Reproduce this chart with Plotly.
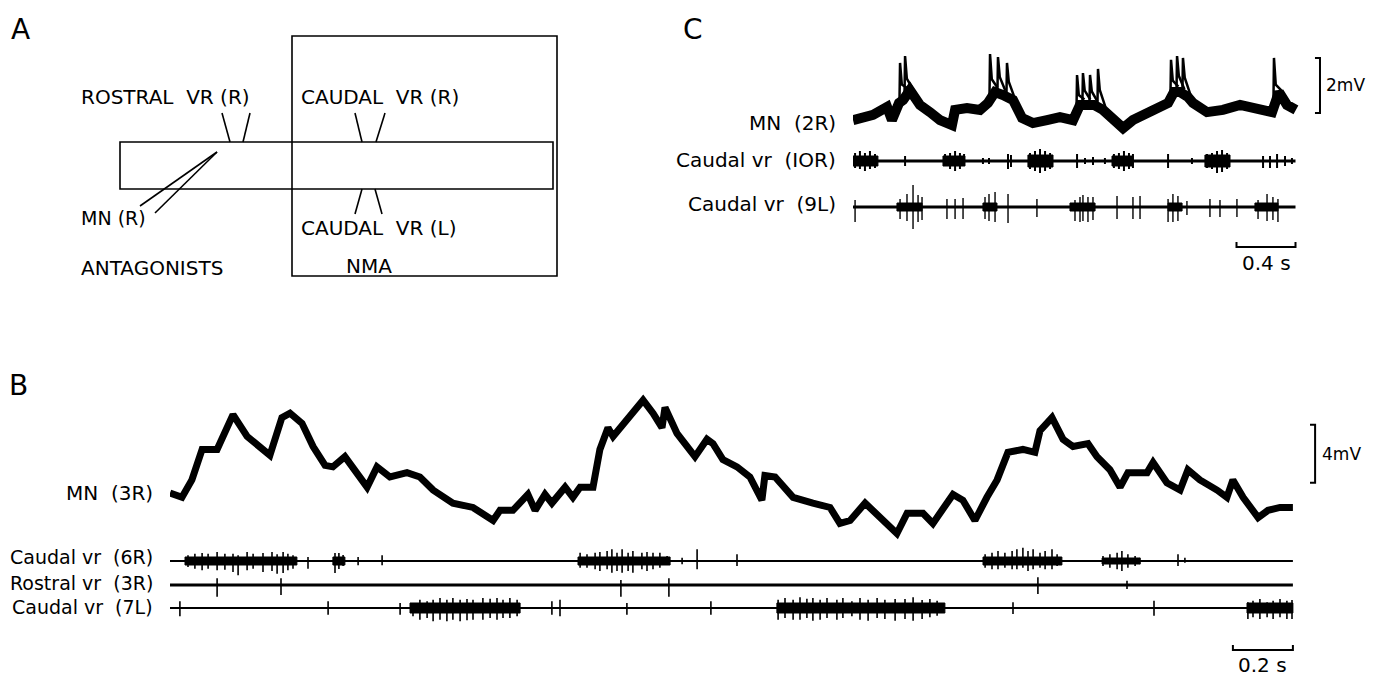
import numpy as np
import plotly.graph_objects as go

W, H = 1390, 679
FONT = "DejaVu Sans"

# ---------------- Panel B : MN (3R) membrane potential (s, mV) ----------------
mn3r_t = [0.000, 0.040, 0.073, 0.107, 0.157, 0.183, 0.210, 0.257, 0.290, 0.333, 0.373, 0.400,
          0.440, 0.477, 0.517, 0.543, 0.583, 0.617, 0.657, 0.690, 0.733, 0.790, 0.833, 0.877,
          0.943, 1.010, 1.077, 1.100, 1.143, 1.193, 1.217, 1.250, 1.273, 1.317, 1.343, 1.367,
          1.410, 1.433, 1.460, 1.477, 1.523, 1.577, 1.610, 1.640, 1.650, 1.690, 1.750, 1.790,
          1.810, 1.843, 1.890, 1.933, 1.973, 1.983, 2.017, 2.077, 2.143, 2.200, 2.233, 2.267,
          2.317, 2.367, 2.423, 2.457, 2.510, 2.543, 2.610, 2.643, 2.683, 2.723, 2.757, 2.793,
          2.843, 2.883, 2.900, 2.940, 2.977, 3.010, 3.060, 3.090, 3.133, 3.167, 3.193, 3.257,
          3.277, 3.323, 3.367, 3.393, 3.433, 3.490, 3.523, 3.543, 3.577, 3.627, 3.660, 3.700, 3.743]
mn3r_mv = [2.9, 2.6, 3.8, 5.9, 5.9, 7.0, 8.3, 6.8, 6.3, 5.5, 8.1, 8.4,
           7.7, 6.1, 4.8, 4.7, 5.4, 4.5, 3.3, 4.7, 4.0, 4.3, 4.0, 3.1,
           2.2, 1.9, 1.0, 1.7, 1.7, 2.8, 1.7, 2.8, 2.2, 3.3, 2.6, 3.3,
           3.3, 5.9, 7.4, 6.8, 7.9, 9.3, 8.4, 7.4, 8.8, 7.0, 5.4, 6.6,
           6.3, 5.2, 4.7, 4.0, 2.4, 4.1, 4.0, 2.6, 2.2, 1.9, 0.8, 1.0,
           2.2, 1.2, 0.1, 1.5, 1.5, 0.8, 2.8, 2.4, 1.0, 2.6, 3.8, 5.7,
           5.9, 5.7, 7.2, 8.1, 6.6, 6.1, 6.3, 5.4, 4.5, 3.3, 4.3, 4.3,
           5.0, 3.6, 3.1, 4.5, 3.8, 3.1, 2.6, 3.8, 2.6, 1.2, 1.7, 1.9, 1.9]

# ---------------- Panel B : ventral root recordings (time s, amplitude a.u.) ----------------
b_span = [0.0, 3.743]

b6r_burst_start = [0.050, 0.543, 1.360, 2.710, 3.107]
b6r_burst_end = [0.423, 0.583, 1.667, 2.973, 3.233]
b6r_burst_amp = [4, 4, 4, 4, 3]
b6r_spike_t = [0.060, 0.083, 0.107, 0.127, 0.157, 0.183, 0.210, 0.227, 0.257, 0.277, 0.310, 0.340,
               0.357, 0.377, 0.393, 0.410, 0.460, 0.550, 0.563, 0.577, 0.627, 0.707,
               1.367, 1.390, 1.417, 1.433, 1.457, 1.473, 1.490, 1.507, 1.527, 1.543, 1.573, 1.590,
               1.610, 1.633, 1.657, 1.707, 1.757, 1.890,
               2.717, 2.740, 2.760, 2.783, 2.807, 2.823, 2.843, 2.860, 2.877, 2.900, 2.917, 2.940,
               2.957, 3.110, 3.133, 3.157, 3.173, 3.193, 3.217, 3.233, 3.360, 3.383]
b6r_spike_up = [5.7, 7.3, 8.0, 7.3, 9.0, 7.3, 7.3, 5.7, 9.0, 7.3, 8.0, 9.0,
                6.7, 9.0, 7.3, 5.7, 4.0, 8.0, 8.0, 6.0, 4.0, 5.7,
                8.3, 6.7, 8.3, 9.0, 10.0, 11.7, 8.3, 11.7, 8.3, 10.0, 8.3, 9.0,
                8.3, 8.3, 5.0, 3.3, 11.7, 6.7,
                6.7, 8.3, 10.0, 8.3, 10.0, 11.7, 13.3, 10.0, 11.7, 8.3, 10.0, 11.7,
                6.7, 5.0, 6.7, 8.3, 10.0, 6.7, 5.0, 3.3, 6.7, 3.3]
b6r_spike_dn = [6.0, 7.7, 9.3, 7.7, 9.3, 8.7, 11.0, 14.3, 9.3, 7.7, 11.0, 10.0,
                12.7, 12.0, 9.3, 7.7, 7.7, 12.0, 8.0, 5.0, 4.3, 4.3,
                6.7, 6.7, 8.3, 10.0, 8.3, 11.7, 10.0, 11.7, 10.0, 11.7, 8.3, 10.0,
                8.3, 6.7, 3.3, 3.3, 8.3, 5.0,
                6.7, 8.3, 8.3, 6.7, 8.3, 8.3, 6.7, 10.0, 8.3, 6.7, 8.3, 8.3,
                5.0, 5.0, 6.7, 8.3, 10.0, 6.7, 5.0, 3.3, 5.0, 1.7]

b3r_spike_t = [0.157, 0.370, 1.503, 1.663, 2.893, 3.190]
b3r_spike_up = [6.7, 6.7, 5.0, 6.7, 7.7, 4.3]
b3r_spike_dn = [11.7, 10.0, 11.7, 11.7, 9.0, 4.0]

b7l_burst_start = [0.800, 2.023, 3.590]
b7l_burst_end = [1.167, 2.583, 3.743]
b7l_burst_amp = [5, 5, 5]
b7l_spike_t = [0.033, 0.527, 0.767, 1.273, 1.300, 1.523, 1.803, 2.810, 3.280,
               0.810, 0.833, 0.857, 0.877, 0.900, 0.923, 0.943, 0.967, 0.990, 1.010, 1.043,
               1.067, 1.090, 1.110, 1.133, 1.157,
               2.027, 2.050, 2.077, 2.100, 2.123, 2.143, 2.167, 2.190, 2.223, 2.243, 2.273,
               2.300, 2.327, 2.357, 2.383, 2.417, 2.450, 2.477, 2.507, 2.533, 2.557, 2.577,
               3.593, 3.610, 3.633, 3.657, 3.677, 3.700, 3.723, 3.740]
b7l_spike_up = [6.7, 6.7, 5.0, 6.7, 8.3, 5.0, 6.7, 5.7, 7.3,
                5.0, 8.3, 6.7, 8.3, 10.0, 8.3, 10.0, 8.3, 9.0, 8.3, 10.0,
                9.3, 10.0, 8.3, 10.0, 8.3,
                8.3, 10.0, 8.3, 10.7, 9.3, 10.0, 8.3, 10.0, 8.3, 10.0, 6.7,
                10.0, 8.3, 10.0, 8.3, 9.0, 9.0, 10.7, 8.0, 9.0, 7.3, 4.0,
                5.7, 7.3, 9.0, 5.7, 7.3, 9.0, 7.3, 8.0]
b7l_spike_dn = [8.3, 6.7, 6.7, 6.7, 8.3, 6.7, 6.7, 6.0, 7.7,
                8.3, 11.7, 10.0, 13.3, 11.7, 13.3, 11.7, 13.3, 12.3, 11.7, 11.7,
                10.0, 11.7, 10.0, 10.0, 8.3,
                11.7, 10.0, 11.7, 11.7, 10.0, 12.7, 11.7, 10.0, 11.7, 10.0, 8.3,
                11.7, 12.7, 10.0, 11.0, 12.7, 11.0, 12.7, 11.0, 9.3, 7.7, 4.3,
                11.0, 9.3, 11.0, 9.3, 11.0, 9.3, 11.0, 11.0]

# ---------------- Panel C : MN (2R) (s, mV) ----------------
mn2r_t = [0.000, 0.136, 0.231, 0.264, 0.312, 0.340, 0.386, 0.454, 0.522, 0.590, 0.671, 0.692,
          0.773, 0.861, 0.915, 0.963, 1.017, 1.085, 1.146, 1.220, 1.315, 1.403, 1.492, 1.539,
          1.586, 1.634, 1.695, 1.763, 1.831, 1.898, 1.993, 2.081, 2.136, 2.176, 2.217, 2.271,
          2.305, 2.400, 2.508, 2.624, 2.739, 2.841, 2.888, 2.942, 3.003]
mn2r_mv = [0.36, 0.55, 0.84, 0.36, 0.98, 1.09, 1.45, 0.91, 0.65, 0.36, 0.18, 0.73,
           0.80, 0.73, 0.98, 1.38, 1.27, 1.09, 0.44, 0.25, 0.36, 0.47, 0.36, 0.91,
           0.91, 0.91, 0.73, 0.36, 0.07, 0.36, 0.62, 0.84, 0.98, 1.38, 1.38, 1.20,
           0.98, 0.65, 0.73, 0.91, 0.73, 0.65, 1.38, 0.91, 0.73]
mn2r_spike_t = [0.319, 0.353, 0.929, 0.983, 1.044, 1.519, 1.559, 1.607, 1.661, 2.156, 2.197, 2.237, 2.854]
mn2r_spike_mv = [2.44, 2.69, 2.76, 2.65, 2.44, 2.00, 2.07, 2.00, 2.22, 2.55, 2.69, 2.62, 2.62]

# ---------------- Panel C : ventral roots (s, a.u.) ----------------
c_span = [0.0, 3.0]

c10r_burst_start = [0.000, 0.610, 1.186, 1.756, 2.386]
c10r_burst_end = [0.169, 0.759, 1.356, 1.898, 2.556]
c10r_burst_amp = [5, 5, 6, 5, 6]
c10r_spike_t = [0.014, 0.047, 0.081, 0.115, 0.149, 0.624, 0.658, 0.692, 0.725, 0.753,
                1.200, 1.234, 1.268, 1.302, 1.336, 1.769, 1.803, 1.837, 1.871, 1.898,
                2.400, 2.434, 2.468, 2.502, 2.536,
                0.353, 0.881, 0.922, 1.051, 1.071, 1.519, 1.573, 1.627, 1.708, 2.136, 2.298,
                2.780, 2.827, 2.875, 2.929, 2.976]
c10r_spike_up = [8, 10, 8, 10, 7, 7, 8, 10, 8, 7, 8, 10, 12, 10, 8, 7, 8, 10, 8, 7,
                 7, 8, 10, 11, 8,
                 5, 3, 3, 7, 6, 7, 3, 4, 3, 7, 3, 5, 5, 7, 5, 3]
c10r_spike_dn = [7, 8, 10, 8, 7, 5, 8, 10, 8, 5, 8, 10, 12, 10, 8, 7, 8, 10, 8, 7,
                 7, 8, 12, 11, 8,
                 5, 3, 3, 8, 6, 7, 3, 4, 3, 7, 3, 7, 7, 7, 5, 3]

c9l_burst_start = [0.298, 0.881, 1.471, 2.136, 2.725]
c9l_burst_end = [0.468, 0.976, 1.641, 2.231, 2.881]
c9l_burst_amp = [4, 4, 4, 4, 4]
c9l_spike_t = [0.014, 0.319, 0.366, 0.407, 0.441, 0.468, 0.637, 0.692, 0.746, 0.895, 0.922, 0.963,
               1.051, 1.247, 1.505, 1.539, 1.559, 1.593, 1.627, 1.790, 1.898, 1.946, 2.136, 2.169,
               2.203, 2.264, 2.420, 2.488, 2.603, 2.746, 2.807, 2.847, 2.881]
c9l_spike_up = [7, 8, 13, 22, 12, 10, 8, 8, 9, 10, 13, 15,
                13, 8, 7, 10, 12, 10, 10, 11, 10, 11, 8, 13,
                11, 6, 8, 7, 8, 7, 13, 10, 8]
c9l_spike_dn = [15, 12, 14, 22, 15, 13, 12, 12, 12, 12, 14, 15,
                16, 10, 14, 15, 14, 15, 13, 12, 12, 12, 15, 15,
                14, 8, 10, 10, 10, 12, 14, 13, 15]

# ---------------- scale bars ----------------
b_mv_bar = 4.0      # mV
b_time_bar = 0.2    # s
c_mv_bar = 2.0      # mV
c_time_bar = 0.4    # s

# =====================================================================
fig = go.Figure()


def ax(px):
    return px / W


def ay(py):
    return 1 - py / H


def line_trace(x, y, xa, ya, width, color="black"):
    fig.add_trace(go.Scatter(x=x, y=y, mode="lines", xaxis=xa, yaxis=ya,
                             line=dict(color=color, width=width), hoverinfo="skip",
                             showlegend=False))


def vr_trace(xa, ya, base, span, width, bstart=None, bend=None, bamp=None,
             st=None, su=None, sd=None, spike_w=1.6):
    line_trace(span, [base, base], xa, ya, width)
    if bstart:
        bx, by = [], []
        for s, e, a in zip(bstart, bend, bamp):
            bx += [s, e, e, s, s, None]
            by += [base - a, base - a, base + a, base + a, base - a, None]
        fig.add_trace(go.Scatter(x=bx, y=by, mode="lines", fill="toself", fillcolor="black",
                                 xaxis=xa, yaxis=ya, line=dict(color="black", width=1),
                                 hoverinfo="skip", showlegend=False))
    if st:
        sx, sy = [], []
        for t, u, d in zip(st, su, sd):
            sx += [t, t, None]
            sy += [base - d, base + u, None]
        line_trace(sx, sy, xa, ya, spike_w)


# Panel B intracellular
line_trace(mn3r_t, mn3r_mv, "x", "y", 7)
# Panel B ventral roots
vr_trace("x2", "y2", 114, b_span, 2.0, b6r_burst_start, b6r_burst_end, b6r_burst_amp,
         b6r_spike_t, b6r_spike_up, b6r_spike_dn)
vr_trace("x2", "y2", 90, b_span, 3.0, None, None, None, b3r_spike_t, b3r_spike_up, b3r_spike_dn)
vr_trace("x2", "y2", 67, b_span, 2.0, b7l_burst_start, b7l_burst_end, b7l_burst_amp,
         b7l_spike_t, b7l_spike_up, b7l_spike_dn)

# Panel C intracellular
line_trace(mn2r_t, mn2r_mv, "x3", "y3", 10)
sx, sy = [], []
for t, p in zip(mn2r_spike_t, mn2r_spike_mv):
    b0 = float(np.interp(t, mn2r_t, mn2r_mv))
    b1 = float(np.interp(t + 0.05, mn2r_t, mn2r_mv))
    sx += [t - 0.004, t, t + 0.012, t + 0.05, None]
    sy += [b0, p, b0 + 0.45 * (p - b0), b1 + 0.2, None]
line_trace(sx, sy, "x3", "y3", 2.5)

# Panel C ventral roots
vr_trace("x4", "y4", 114, c_span, 3.0, c10r_burst_start, c10r_burst_end, c10r_burst_amp,
         c10r_spike_t, c10r_spike_up, c10r_spike_dn, spike_w=2.0)
vr_trace("x4", "y4", 68, c_span, 3.0, c9l_burst_start, c9l_burst_end, c9l_burst_amp,
         c9l_spike_t, c9l_spike_up, c9l_spike_dn, spike_w=1.4)

# Scale bars (drawn in data units)
bx_mv = 3.817
line_trace([bx_mv - 0.017, bx_mv, bx_mv, bx_mv - 0.017], [3.6, 3.6, 3.6 + b_mv_bar, 3.6 + b_mv_bar], "x", "y", 2)
bt_end = b_span[1]
line_trace([bt_end - b_time_bar, bt_end - b_time_bar, bt_end, bt_end], [30, 25, 25, 30], "x2", "y2", 2)
cx_mv = 3.166
line_trace([cx_mv - 0.034, cx_mv, cx_mv, cx_mv - 0.034], [0.62, 0.62, 0.62 + c_mv_bar, 0.62 + c_mv_bar], "x3", "y3", 2)
ct_end = c_span[1]
line_trace([ct_end - c_time_bar, ct_end - c_time_bar, ct_end, ct_end], [33, 28, 28, 33], "x4", "y4", 2)

ann = []


def text(x, y, s, size=18, xanchor="left", xref="paper", yref="paper"):
    ann.append(dict(x=x, y=y, text=s, showarrow=False, xref=xref, yref=yref, xanchor=xanchor,
                    yanchor="middle", font=dict(family=FONT, size=size, color="black")))


# scale bar labels
text(bx_mv + 0.015, 3.6 + b_mv_bar / 2, "4mV", 17, "left", "x", "y")
text(bt_end - b_time_bar / 2, 10, "0.2 s", 20, "center", "x2", "y2")
text(cx_mv + 0.025, 0.62 + c_mv_bar / 2, "2mV", 17, "left", "x3", "y3")
text(ct_end - c_time_bar / 2, 12, "0.4 s", 20, "center", "x4", "y4")

# panel letters
text(ax(9), ay(30), "A", 28)
text(ax(7), ay(385), "B", 28)
text(ax(681), ay(30), "C", 28)

# Panel B labels
text(ax(155), ay(493), "MN  (3R)", 20, "right")
text(ax(155), ay(557), "Caudal vr  (6R)", 19, "right")
text(ax(155), ay(583), "Rostral vr  (3R)", 19, "right")
text(ax(155), ay(607), "Caudal vr  (7L)", 19, "right")
# Panel C labels
text(ax(838), ay(123), "MN  (2R)", 20, "right")
text(ax(838), ay(160), "Caudal vr  (IOR)", 20, "right")
text(ax(838), ay(204), "Caudal vr  (9L)", 20, "right")

# Panel A labels
text(ax(79), ay(97), "ROSTRAL  VR (R)", 20)
text(ax(299), ay(97), "CAUDAL  VR (R)", 20)
text(ax(79), ay(218), "MN (R)", 19)
text(ax(299), ay(228), "CAUDAL  VR (L)", 20)
text(ax(79), ay(268), "ANTAGONISTS", 20)
text(ax(369), ay(266), "NMA", 20, "center")

shapes = []


def seg(x0, y0, x1, y1, w=1.6):
    shapes.append(dict(type="line", xref="paper", yref="paper", x0=ax(x0), y0=ay(y0),
                       x1=ax(x1), y1=ay(y1), line=dict(color="black", width=w)))


def rect(x0, y0, x1, y1, w=1.6):
    shapes.append(dict(type="rect", xref="paper", yref="paper", x0=ax(x0), y0=ay(y1),
                       x1=ax(x1), y1=ay(y0), line=dict(color="black", width=w)))


rect(292, 36, 557, 276)
rect(120, 142, 553, 189)
seg(222, 113, 230, 142)
seg(250, 113, 243, 142)
seg(355, 113, 362, 142)
seg(385, 113, 376, 142)
seg(362, 189, 355, 214)
seg(375, 189, 382, 214)
seg(140, 206, 217, 152)
seg(155, 213, 217, 152)

hidden = dict(visible=False, fixedrange=True)
fig.update_layout(
    width=W, height=H, margin=dict(l=0, r=0, t=0, b=0),
    paper_bgcolor="white", plot_bgcolor="rgba(0,0,0,0)",
    annotations=ann, shapes=shapes, showlegend=False,
    xaxis=dict(domain=[ax(170), ax(1330)], range=[0, 1160 / 300], anchor="y", **hidden),
    yaxis=dict(domain=[ay(545), ay(380)], range=[(535 - 545) / 14.5, (535 - 380) / 14.5], anchor="x", **hidden),
    xaxis2=dict(domain=[ax(170), ax(1330)], range=[0, 1160 / 300], anchor="y2", **hidden),
    yaxis2=dict(domain=[ay(675), ay(540)], range=[0, 135], anchor="x2", **hidden),
    xaxis3=dict(domain=[ax(853), ax(1330)], range=[0, 477 / 147.5], anchor="y3", **hidden),
    yaxis3=dict(domain=[ay(140), ay(40)], range=[(130 - 140) / 27.5, (130 - 40) / 27.5], anchor="x3", **hidden),
    xaxis4=dict(domain=[ax(853), ax(1330)], range=[0, 477 / 147.5], anchor="y4", **hidden),
    yaxis4=dict(domain=[ay(275), ay(140)], range=[0, 135], anchor="x4", **hidden),
)

fig.write_html("out.html")
